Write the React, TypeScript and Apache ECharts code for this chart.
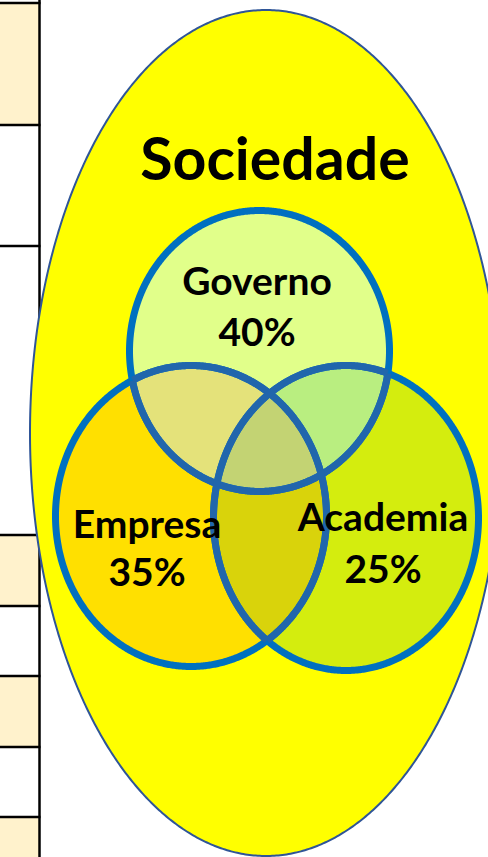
import React, { useEffect, useRef } from 'react';
import * as echarts from 'echarts';

// ---- data ----
const UNIVERSE = 'Sociedade';
const SETS = ['Governo', 'Empresa', 'Academia'];
const SHARES = [40, 35, 25];
// regions as lists of set indices
const REGIONS: number[][] = [[0], [1], [2], [0, 1], [0, 2], [1, 2], [0, 1, 2]];

// ---- styles ----
const REGION_COLORS = ['#E1FF8A', '#FFE000', '#D4ED0E', '#E4E27A', '#B9EE80', '#D9D30B', '#C3D373'];
const STROKE = '#0070C0';
const STROKE_INNER = '#2166AC';
const OUTER_FILL = '#FFFF00';
const OUTER_STROKE = '#2F5597';
const CELL_FILL = '#FFF2CC';
const FONT = 'Lato';
const TITLE_SIZE = 59;
const LABEL_SIZE = 39;

// ---- layout (page pixels) ----
const W = 488;
const H = 857;
const CIRCLES = [
  { cx: 259.5, cy: 351, rx: 130, ry: 140.5 },
  { cx: 191, cy: 516, rx: 135.5, ry: 150.5 },
  { cx: 346, cy: 518, rx: 132.5, ry: 152.5 },
];
const OUTER = { cx: 266, cy: 433, rx: 236, ry: 423 };
const UNIVERSE_LABEL = { x: 275, y: 179 };
const LABELS = [
  { x: 257, y1: 294, y2: 345 },
  { x: 147, y1: 537, y2: 585 },
  { x: 383, y1: 530, y2: 582 },
];
const BASELINE_SHIFT = 0.14; // em, from line-box bottom to baseline
const TABLE_X = 39.5;
const TABLE_LINES = [3, 125, 246, 535, 606, 676, 747, 817];
const TABLE_FILLED = [[3, 125], [535, 606], [676, 747], [817, 860]];

type C = { cx: number; cy: number; rx: number; ry: number };
const inside = (c: C, x: number, y: number) =>
  ((x - c.cx) / c.rx) ** 2 + ((y - c.cy) / c.ry) ** 2 <= 1;

function ellipsePts(c: C, n = 360): number[][] {
  const out: number[][] = [];
  for (let k = 0; k < n; k++) {
    const t = (2 * Math.PI * k) / n;
    out.push([c.cx + c.rx * Math.cos(t), c.cy + c.ry * Math.sin(t)]);
  }
  return out;
}

function regionPts(idx: number[]): number[][] {
  if (idx.length === 1) return ellipsePts(CIRCLES[idx[0]], 720);
  const pts: number[][] = [];
  for (const i of idx) {
    for (const p of ellipsePts(CIRCLES[i], 1440)) {
      if (idx.every((j) => j === i || inside(CIRCLES[j], p[0], p[1]))) pts.push(p);
    }
  }
  const mx = pts.reduce((s, p) => s + p[0], 0) / pts.length;
  const my = pts.reduce((s, p) => s + p[1], 0) / pts.length;
  pts.sort((a, b) => Math.atan2(a[1] - my, a[0] - mx) - Math.atan2(b[1] - my, b[0] - mx));
  return pts;
}

function innerRuns(i: number): number[][][] {
  const n = 1440;
  const runs: number[][][] = [];
  let cur: number[][] | null = null;
  const c = CIRCLES[i];
  for (let k = 0; k <= n; k++) {
    const t = (2 * Math.PI * k) / n;
    const x = c.cx + c.rx * Math.cos(t);
    const y = c.cy + c.ry * Math.sin(t);
    const dark = CIRCLES.some((o, j) => j !== i && inside(o, x, y));
    if (dark) {
      if (!cur) { cur = []; runs.push(cur); }
      cur.push([x, y]);
    } else cur = null;
  }
  return runs;
}

export default function App() {
  const ref = useRef<HTMLDivElement>(null);
  useEffect(() => {
    if (!ref.current) return;
    const chart = echarts.init(ref.current, undefined, { renderer: 'svg' });
    const toPx = (api: any, pts: number[][]) => pts.map((p) => api.coord(p));

    const graphic: any[] = [];
    TABLE_FILLED.forEach(([a, b]) =>
      graphic.push({ type: 'rect', z: 0, shape: { x: 0, y: a, width: TABLE_X, height: b - a }, style: { fill: CELL_FILL } })
    );
    TABLE_LINES.forEach((y) =>
      graphic.push({ type: 'line', z: 0, shape: { x1: 0, y1: y, x2: TABLE_X + 1, y2: y }, style: { stroke: '#000', lineWidth: 2.5 } })
    );
    graphic.push({ type: 'line', z: 0, shape: { x1: TABLE_X, y1: 0, x2: TABLE_X, y2: H }, style: { stroke: '#000', lineWidth: 2.5 } });

    chart.setOption({
      animation: false,
      grid: { left: 0, right: 0, top: 0, bottom: 0 },
      xAxis: { type: 'value', min: 0, max: W, show: false },
      yAxis: { type: 'value', min: 0, max: H, inverse: true, show: false },
      graphic,
      series: [
        {
          name: UNIVERSE,
          type: 'custom',
          z: 3,
          data: [[0, 0]],
          renderItem: (_p: any, api: any) => {
            const t = api.coord([UNIVERSE_LABEL.x, UNIVERSE_LABEL.y]);
            return {
              type: 'group',
              children: [
                {
                  type: 'polygon',
                  shape: { points: toPx(api, ellipsePts(OUTER, 720)) },
                  style: { fill: OUTER_FILL, stroke: OUTER_STROKE, lineWidth: 2 },
                },
                {
                  type: 'text',
                  x: t[0],
                  y: t[1] + BASELINE_SHIFT * TITLE_SIZE,
                  style: {
                    text: UNIVERSE, fill: '#000', fontFamily: FONT, fontWeight: 'bold', fontSize: TITLE_SIZE,
                    align: 'center', verticalAlign: 'bottom',
                  },
                },
              ],
            };
          },
        },
        {
          name: 'regions',
          type: 'custom',
          z: 4,
          data: REGIONS.map((_r, i) => [i, 0]),
          renderItem: (p: any, api: any) => ({
            type: 'polygon',
            shape: { points: toPx(api, regionPts(REGIONS[p.dataIndex])) },
            style: { fill: REGION_COLORS[p.dataIndex] },
          }),
        },
        {
          name: 'outlines',
          type: 'custom',
          z: 5,
          data: SETS.map((_s, i) => [i, 0]),
          renderItem: (p: any, api: any) => ({
            type: 'polygon',
            shape: { points: toPx(api, ellipsePts(CIRCLES[p.dataIndex], 720)) },
            style: { fill: 'none', stroke: STROKE, lineWidth: 7 },
          }),
        },
        {
          name: 'outlines-inner',
          type: 'custom',
          z: 6,
          data: SETS.map((_s, i) => [i, 0]),
          renderItem: (p: any, api: any) => ({
            type: 'group',
            children: innerRuns(p.dataIndex).map((run) => ({
              type: 'polyline',
              shape: { points: toPx(api, run) },
              style: { fill: 'none', stroke: STROKE_INNER, lineWidth: 7 },
            })),
          }),
        },
        {
          name: 'labels',
          type: 'custom',
          z: 7,
          data: SETS.map((_s, i) => [i, 0]),
          renderItem: (p: any, api: any) => {
            const i = p.dataIndex;
            const L = LABELS[i];
            const a = api.coord([L.x, L.y1]);
            const b = api.coord([L.x, L.y2]);
            const d = BASELINE_SHIFT * LABEL_SIZE;
            const st = { fill: '#000', fontFamily: FONT, fontWeight: 'bold', fontSize: LABEL_SIZE, align: 'center', verticalAlign: 'bottom' };
            return {
              type: 'group',
              children: [
                { type: 'text', x: a[0], y: a[1] + d, style: { ...st, text: SETS[i] } },
                { type: 'text', x: b[0], y: b[1] + d, style: { ...st, text: `${SHARES[i]}%` } },
              ],
            };
          },
        },
      ],
    });
    return () => chart.dispose();
  }, []);
  return <div ref={ref} style={{ position: 'absolute', left: 0, top: 0, width: W, height: H }} />;
}
